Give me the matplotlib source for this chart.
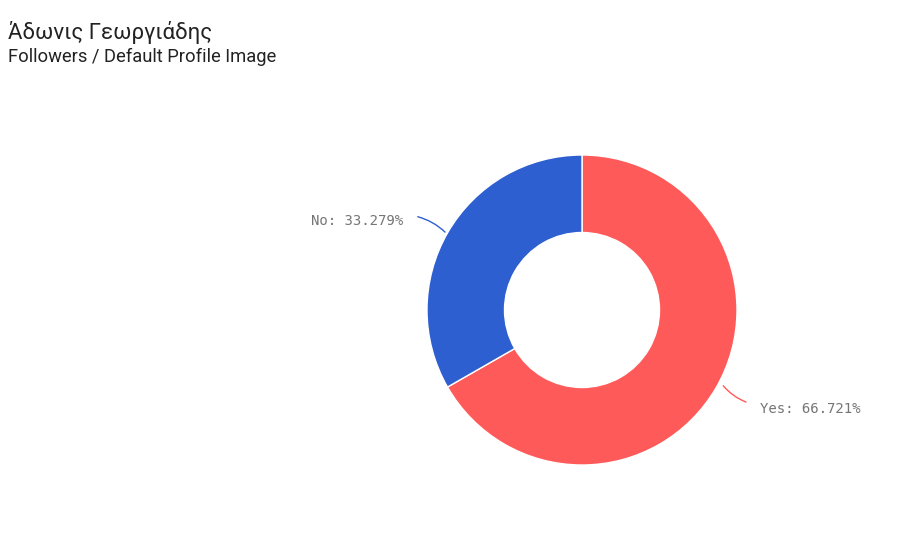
import matplotlib.pyplot as plt

title = "Άδωνις Γεωργιάδης"
subtitle = "Followers / Default Profile Image"
labels = ["Yes", "No"]
values = [66.721, 33.279]
colors = ["#FF5A5A", "#2E5FD0"]

fig = plt.figure(figsize=(9, 5.47), dpi=100)
fig.text(8 / 900, 1 - 32 / 547, title, fontsize=16, family=["Roboto", "DejaVu Sans"],
         color="#222222", va="center")
fig.text(8 / 900, 1 - 57 / 547, subtitle, fontsize=13.2, family=["Roboto", "DejaVu Sans"],
         color="#222222", va="center")

ax = fig.add_axes([(582 - 155) / 900, (237 - 155) / 547, 310 / 900, 310 / 547])
wedges, _ = ax.pie(values, colors=colors, startangle=90, counterclock=False, radius=1,
                   wedgeprops=dict(width=0.5, edgecolor="white", linewidth=1))
ax.set_xlim(-1, 1)
ax.set_ylim(-1, 1)
ax.set_aspect("equal")
ax.axis("off")

# leader lines and labels
ax.annotate("", xy=(-0.871, 0.490), xytext=(-1.077, 0.606), annotation_clip=False,
            arrowprops=dict(arrowstyle="-", color=colors[1], lw=1,
                            connectionstyle="arc3,rad=-0.15"))
ax.text(-1.155, 0.574, f"{labels[1]}: {values[1]:.3f}%", ha="right", va="center",
        family="DejaVu Sans Mono", fontsize=10.1, color="#757575", clip_on=False)

ax.annotate("", xy=(0.90, -0.475), xytext=(1.075, -0.600), annotation_clip=False,
            arrowprops=dict(arrowstyle="-", color=colors[0], lw=1,
                            connectionstyle="arc3,rad=-0.15"))
ax.text(1.148, -0.639, f"{labels[0]}: {values[0]:.3f}%", ha="left", va="center",
        family="DejaVu Sans Mono", fontsize=10.1, color="#757575", clip_on=False)

fig.savefig("out.png", dpi=100)
